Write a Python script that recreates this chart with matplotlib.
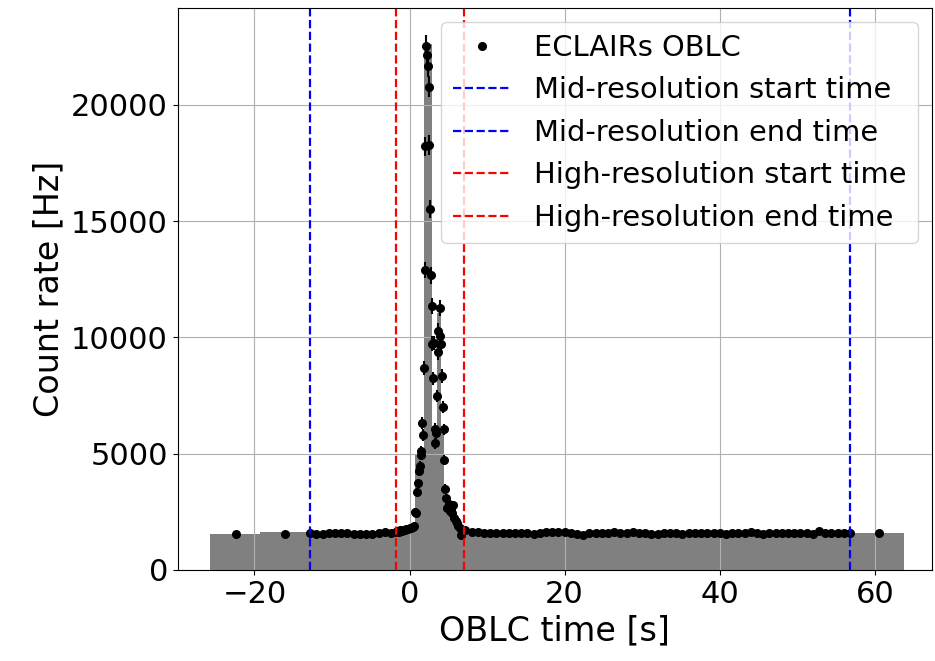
import numpy as np
import matplotlib
matplotlib.use('Agg')
import matplotlib.pyplot as plt

# Gray light curve (blocks): edges [s] and rates [Hz]
block_edges = [-25.7, -19.3, -2.0, 0.73, 1.85, 2.9, 3.5, 4.0, 4.5, 5.3,
               6.2, 7.0, 56.8, 63.7]
block_rates = [1560, 1610, 1800, 5000, 22600, 6200, 11050, 6200, 3000,
               2200, 1750, 1560, 1580]

# Coarse points outside the mid-resolution window
coarse_t = [-22.4, -16.0, 60.6]
coarse_r = [1535, 1550, 1580]
coarse_dt = 6.4

# Mid-resolution points
mid_t = [-12.8, -12.0, -11.2, -10.4, -9.6, -8.8, -8.0, -7.2, -6.4, -5.6,
         -4.8, -4.0, -3.2, -2.4,
         7.2, 8.0, 8.8, 9.6, 10.4, 11.2, 12.0, 12.8, 13.6, 14.4,
         15.2, 16.0, 16.8, 17.6, 18.4, 19.2, 20.0, 20.8, 21.6, 22.4,
         23.2, 24.0, 24.8, 25.6, 26.4, 27.2, 28.0, 28.8, 29.6, 30.4,
         31.2, 32.0, 32.8, 33.6, 34.4, 35.2, 36.0, 36.8, 37.6, 38.4,
         39.2, 40.0, 40.8, 41.6, 42.4, 43.2, 44.0, 44.8, 45.6, 46.4,
         47.2, 48.0, 48.8, 49.6, 50.4, 51.2, 52.0, 52.8, 53.6, 54.4,
         55.2, 56.0, 56.8]
mid_r = [1600, 1560, 1550, 1590, 1580, 1570, 1600, 1560, 1560, 1540,
         1560, 1580, 1620, 1590,
         1700, 1640, 1630, 1600, 1580, 1570, 1570, 1580, 1580, 1590,
         1600, 1560, 1600, 1610, 1610, 1620, 1610, 1600, 1560, 1490,
         1590, 1590, 1580, 1600, 1610, 1600, 1580, 1620, 1580, 1570,
         1560, 1560, 1580, 1590, 1570, 1560, 1590, 1570, 1590, 1580,
         1590, 1580, 1550, 1570, 1590, 1600, 1640, 1590, 1550, 1590,
         1600, 1590, 1600, 1580, 1570, 1580, 1540, 1650, 1590, 1580,
         1590, 1600, 1600]
mid_dt = 0.8

# High-resolution points
high_t = [-1.8, -1.6, -1.4, -1.2, -1.0, -0.8, -0.6, -0.4, -0.2, 0.0, 0.2,
          0.4, 0.6,
          0.73, 0.86, 0.95, 1.05, 1.16, 1.29, 1.42, 1.5, 1.63, 1.72,
          1.85, 1.94, 2.05, 2.15, 2.25, 2.35, 2.45, 2.55, 2.67, 2.78,
          2.88, 2.95, 3.05, 3.15, 3.23, 3.35, 3.44, 3.57, 3.66, 3.72,
          3.87, 3.95, 4.09, 4.17, 4.3, 4.43, 4.5, 4.6, 4.7, 4.8,
          4.95, 5.05, 5.16, 5.3, 5.5, 5.6, 5.8, 6.0, 6.1, 6.3,
          6.45, 6.6, 6.8]
high_r = [1620, 1650, 1640, 1700, 1680, 1720, 1710, 1750, 1760, 1790, 1800,
          1830, 1880,
          2480, 2440, 3340, 3730, 4230, 4470, 4950, 5120, 6310, 5800,
          8670, 12900, 18210, 22540, 22150, 21680, 20790, 18280, 15510, 12670,
          11340, 9730, 8240, 9750, 6050, 5450, 5880, 7480, 10280, 9350,
          11250, 10040, 9730, 8330, 7010, 6040, 4710, 3490, 3080, 2650,
          2720, 2850, 2510, 2580, 2440, 2800, 2220, 2100, 2010, 1900,
          1790, 1500, 1650]
high_dt = 0.1

# Resolution windows
mid_start, mid_end = -12.8, 56.8
high_start, high_end = -1.7, 7.0


def main():
    fig = plt.figure(figsize=(9.35, 6.61), dpi=100)
    fig.subplots_adjust(left=0.19, right=0.997, bottom=0.138, top=0.988)
    ax = fig.add_subplot(111)

    ax.stairs(block_rates, block_edges, fill=True, color='grey')

    # Merge the three resolutions into one series (Poisson errors)
    t = np.concatenate([coarse_t, mid_t, high_t])
    r = np.concatenate([coarse_r, mid_r, high_r]).astype(float)
    dt = np.concatenate([np.full(len(coarse_t), coarse_dt),
                         np.full(len(mid_t), mid_dt),
                         np.full(len(high_t), high_dt)])
    err = np.sqrt(r / dt)
    order = np.argsort(t)
    ax.errorbar(t[order], r[order], yerr=err[order], fmt='none',
                ecolor='black', elinewidth=1.5)
    pts, = ax.plot(t[order], r[order], 'o', color='black', ms=5.5,
                   label='ECLAIRs OBLC')

    handles = [pts]
    handles.append(ax.axvline(mid_start, color='blue', ls='--', lw=1.6,
                              label='Mid-resolution start time'))
    handles.append(ax.axvline(mid_end, color='blue', ls='--', lw=1.6,
                              label='Mid-resolution end time'))
    handles.append(ax.axvline(high_start, color='red', ls='--', lw=1.6,
                              label='High-resolution start time'))
    handles.append(ax.axvline(high_end, color='red', ls='--', lw=1.6,
                              label='High-resolution end time'))

    ax.set_xlim(-29.9, 67.4)
    ax.set_ylim(0, 24170)
    ax.set_xticks([-20, 0, 20, 40, 60])
    ax.set_yticks([0, 5000, 10000, 15000, 20000])
    ax.tick_params(labelsize=22)
    ax.set_xlabel('OBLC time [s]', fontsize=24)
    ax.set_ylabel('Count rate [Hz]', fontsize=24)
    ax.grid(True)
    ax.legend(handles=handles, loc='upper right', fontsize=20.8)

    fig.savefig('out.png', dpi=100)


if __name__ == '__main__':
    main()
